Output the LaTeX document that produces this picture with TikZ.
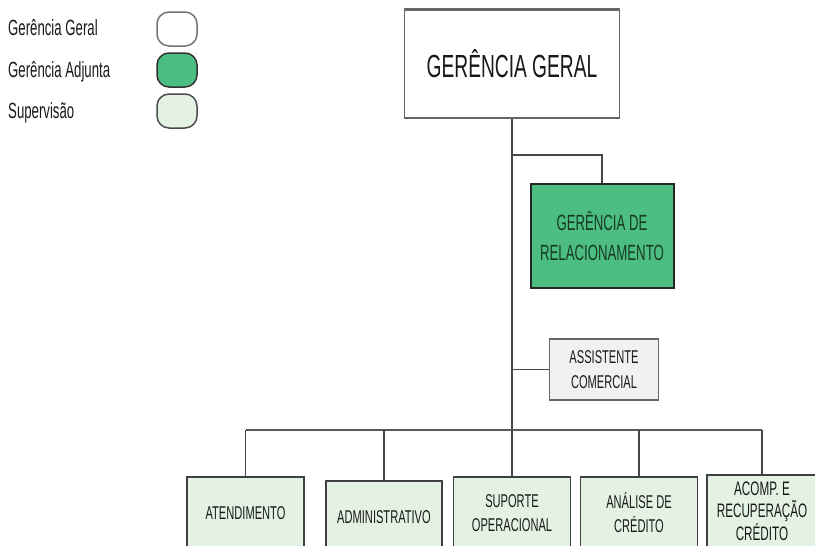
\documentclass[tikz,border=0pt]{standalone}
\usepackage{fontspec}
\setmainfont[FakeStretch=0.6]{Liberation Sans}
\definecolor{verdeadj}{HTML}{4CBE82}
\definecolor{verdesup}{HTML}{E4F2E4}
\definecolor{cinzaasc}{HTML}{F1F1F1}
\definecolor{linha}{HTML}{474747}
\definecolor{textoadj}{HTML}{173A24}
\tikzset{
  legtxt/.style={anchor=base west,inner sep=0pt,text=black!90,font=\fontsize{22}{24}\selectfont},
  legbox/.style={draw=#1,line width=1.5pt,rounded corners=12pt,minimum width=40pt,minimum height=34pt,inner sep=0pt},
  gerbox/.style={draw=black!60,line width=1.5pt,fill=white,minimum width=215pt,minimum height=108pt,inner sep=0pt,text=black!90,font=\fontsize{32}{36}\selectfont},
  adjbox/.style={draw=black!85,line width=2pt,fill=verdeadj,minimum width=143pt,minimum height=104pt,inner sep=0pt,align=center,text=textoadj,font=\fontsize{22}{30}\selectfont},
  ascbox/.style={draw=black!60,line width=1.5pt,fill=cinzaasc,minimum width=109pt,minimum height=61pt,inner sep=0pt,align=center,text=black!90,font=\fontsize{18.5}{25}\selectfont},
  supbox/.style={draw=black!75,line width=1.3pt,fill=verdesup,minimum width=117pt,minimum height=72pt,inner sep=0pt,align=center,text=black!90,font=\fontsize{18.5}{24}\selectfont},
  conn/.style={draw=linha,line width=1.4pt},
  busline/.style={draw=black!65,line width=2.2pt}
}
\begin{document}
\begin{tikzpicture}[x=1pt,y=-1pt]
  \useasboundingbox (0,0) rectangle (815,546);
  \clip (0,0) rectangle (815,546);
  % legenda
  \node[legtxt] (lg1) at (8,35) {Gerência Geral};
  \node[legtxt] (lg2) at (8,77) {Gerência Adjunta};
  \node[legtxt] (lg3) at (8,118) {Supervisão};
  \node[legbox=black!55,fill=white] (lb1) at (177,29) {};
  \node[legbox=black!80,fill=verdeadj] (lb2) at (177,70) {};
  \node[legbox=black!70,fill=verdesup] (lb3) at (177,111) {};
  % organograma
  \node[gerbox] (gg) at (512,64) {GERÊNCIA GERAL};
  \draw[black!60,line width=3pt] (gg.north west) -- (gg.north east);
  \node[adjbox] (grel) at (602,235.5) {GERÊNCIA DE\\RELACIONAMENTO};
  \node[ascbox] (asc) at (604,369.5) {ASSISTENTE\\COMERCIAL};
  \node[supbox] (ate) at (245.5,513) {ATENDIMENTO};
  \node[supbox,minimum width=116pt] (adm) at (384,517) {ADMINISTRATIVO};
  \node[supbox] (sop) at (512,513) {SUPORTE\\OPERACIONAL};
  \node[supbox] (anc) at (639,513) {ANÁLISE DE\\CRÉDITO};
  \node[supbox,minimum width=110pt,font=\fontsize{19.5}{22.5}\selectfont] (acr) at (762,511) {ACOMP. E\\RECUPERAÇÃO\\CRÉDITO};
  \coordinate (j1) at (512,155);
  \coordinate (busL) at (245.5,430);
  \coordinate (busR) at (762,430);
  \draw[conn] (gg.south) -- (sop.north);
  \draw[conn] (j1) -| (grel.north);
  \draw[conn] (asc.west) -- (asc.west -| gg.south);
  \draw[busline] (busL) -- (busR);
  \foreach \b in {ate,adm,anc,acr}
    \draw[conn] (\b.north) -- (\b.north |- busL);
\end{tikzpicture}
\end{document}
